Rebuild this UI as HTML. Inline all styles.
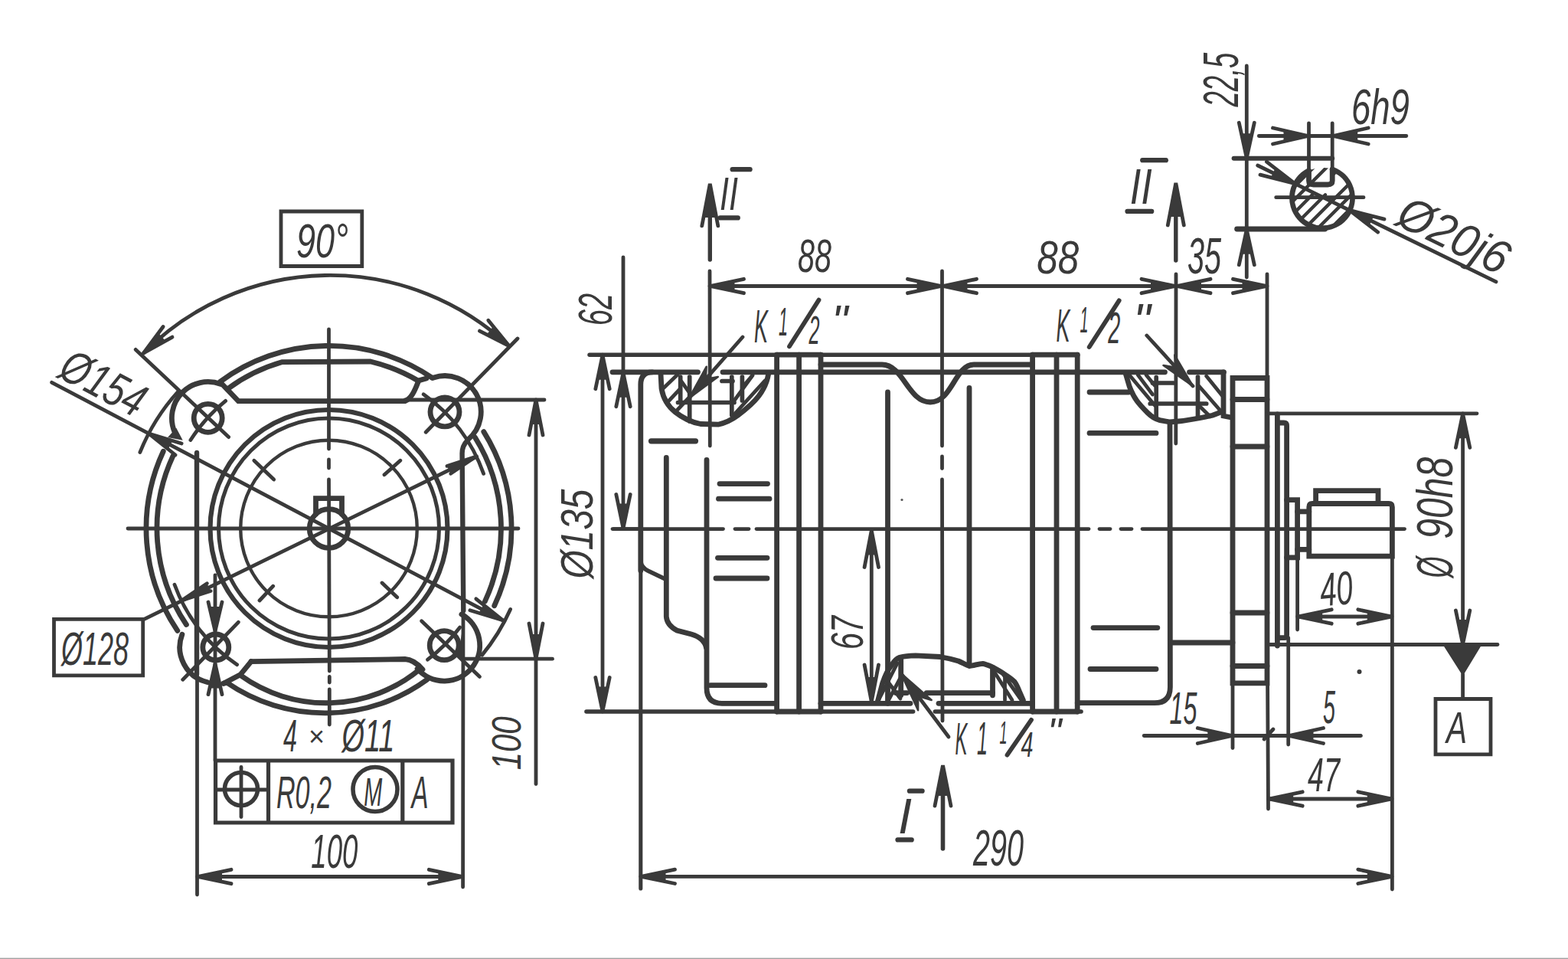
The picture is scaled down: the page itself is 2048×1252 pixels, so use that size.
<!DOCTYPE html>
<html><head><meta charset="utf-8"><title>drawing</title>
<style>html,body{margin:0;padding:0;background:#fff;}body{width:2048px;height:1252px;overflow:hidden;font-family:"Liberation Sans",sans-serif;}svg{display:block;}svg text{fill:#3a3a3a;stroke:none;font-family:"Liberation Sans",sans-serif;font-style:italic;}</style></head><body>
<svg width="2048" height="1252" viewBox="0 0 2048 1252" stroke="#3a3a3a" fill="none" stroke-linecap="round">
<rect x="0" y="0" width="2048" height="1252" fill="#ffffff" stroke="none"/>
<g>
<circle cx="429.5" cy="690.0" r="155.0" stroke-width="6.2" fill="none"/>
<circle cx="429.5" cy="690.0" r="144.0" stroke-width="5.0" fill="none"/>
<circle cx="429.5" cy="690.0" r="115.3" stroke-width="4.4" fill="none"/>
<path d="M412.5,671.3 L412.5,650.6 L446.5,650.6 L446.5,671.3" stroke-width="6.8" fill="none" />
<circle cx="429.5" cy="690.0" r="25.3" stroke-width="6.8" fill="none"/>
<circle cx="271.7" cy="545.8" r="18.5" stroke-width="6.8" fill="none"/>
<circle cx="581.0" cy="537.8" r="19.0" stroke-width="6.8" fill="none"/>
<circle cx="281.8" cy="845.0" r="17.0" stroke-width="6.8" fill="none"/>
<circle cx="580.2" cy="842.6" r="19.0" stroke-width="6.8" fill="none"/>
<path d="M213.3,589.2 A238.5,238.5 0 0 0 231.8,823.4" stroke-width="6.8" fill="none" />
<path d="M226.0,595.1 A224.5,224.5 0 0 0 243.4,815.5" stroke-width="6.8" fill="none" />
<path d="M645.7,790.8 A238.5,238.5 0 0 0 631.8,563.6" stroke-width="6.8" fill="none" />
<path d="M633.4,785.1 A225.0,225.0 0 0 0 620.3,570.8" stroke-width="6.8" fill="none" />
<path d="M564.6,493.4 A238.5,238.5 0 0 0 287.3,498.5" stroke-width="6.8" fill="none" />
<path d="M297,508 A225.5,225.5 0 0 1 368.8,472.6 L484,472 A225.5,225.5 0 0 1 546,497 L557,494" stroke-width="6.8" fill="none" />
<path d="M290.6,502 L311.3,523.5 L529,523.7 C537,520 541,512 546,499" stroke-width="6.8" fill="none" />
<path d="M292,892.2 L296.4,891.3 A226.3,226.3 0 0 0 557.8,887.3" stroke-width="6.8" fill="none" />
<path d="M292,892.2 L313.9,880.8 L328,863.6" stroke-width="6.8" fill="none" />
<path d="M328,863.6 L529,860.5 C537,861 545,866 552,874" stroke-width="6.8" fill="none" />
<path d="M313.9,881.6 A191.8,191.8 0 0 0 548.2,873.8" stroke-width="6.8" fill="none" />
<path d="M288.7,501.6 A47.3,47.3 0 0 0 228.2,564.3" stroke-width="6.8" fill="none" />
<path d="M611.3,574.0 A47.2,47.2 0 0 0 566.4,492.9" stroke-width="6.8" fill="none" />
<path d="M237.9,828.2 A47.0,47.0 0 0 0 271.2,890.8" stroke-width="6.8" fill="none" />
<path d="M545.1,873.1 A46.5,46.5 0 1 0 602.9,802.0" stroke-width="6.8" fill="none" />
<line x1="257.0" y1="591.0" x2="257.0" y2="880.0" stroke-width="6.4" stroke-linecap="round"/>
<line x1="257.5" y1="880.0" x2="257.5" y2="1168.0" stroke-width="4.8" stroke-linecap="round"/>
<path d="M605.3,797 L603.6,592 Q603.6,582 610.5,575" stroke-width="6.4" fill="none" />
<line x1="605.0" y1="797.0" x2="604.6" y2="1158.0" stroke-width="4.8" stroke-linecap="round"/>
<path d="M605.4,811.5 L598.3,858 L606,858 Z" fill="#3a3a3a" stroke="none"/>
<line x1="167.0" y1="690.0" x2="677.0" y2="690.0" stroke-width="4.8" stroke-linecap="round"/>
<line x1="429.5" y1="430.0" x2="429.5" y2="586.0" stroke-width="4.8" stroke-linecap="round"/>
<line x1="429.5" y1="600.0" x2="429.5" y2="611.0" stroke-width="4.8" stroke-linecap="round"/>
<line x1="429.5" y1="626.0" x2="430.3" y2="876.0" stroke-width="4.8" stroke-linecap="round"/>
<line x1="430.3" y1="883.5" x2="430.3" y2="891.0" stroke-width="4.8" stroke-linecap="round"/>
<line x1="430.3" y1="900.0" x2="430.3" y2="946.0" stroke-width="4.8" stroke-linecap="round"/>
<line x1="331.8" y1="601.2" x2="357.7" y2="626.0" stroke-width="4.8" stroke-linecap="round"/>
<line x1="502.0" y1="619.8" x2="522.8" y2="601.2" stroke-width="4.8" stroke-linecap="round"/>
<line x1="339.0" y1="784.0" x2="356.7" y2="765.2" stroke-width="4.8" stroke-linecap="round"/>
<line x1="499.0" y1="761.0" x2="518.7" y2="779.8" stroke-width="4.8" stroke-linecap="round"/>
<line x1="67.6" y1="499.3" x2="656.8" y2="809.8" stroke-width="4.8" stroke-linecap="round"/>
<line x1="188.3" y1="808.3" x2="622.7" y2="596.0" stroke-width="4.8" stroke-linecap="round"/>
<path d="M232.8,511.0 A266.0,266.0 0 0 0 182.9,590.4" stroke-width="4.8" fill="none" />
<path d="M629.7,855.1 A259.5,259.5 0 0 0 666.6,795.5" stroke-width="4.8" fill="none" />
<path d="M631.6,618.4 A214.4,214.4 0 0 0 553.1,514.8" stroke-width="4.8" fill="none" />
<path d="M294.6,523.4 A214.4,214.4 0 0 0 248.9,574.5" stroke-width="4.8" fill="none" />
<path d="M228.0,763.3 A214.4,214.4 0 0 0 309.6,867.7" stroke-width="4.8" fill="none" />
<path d="M558.5,861.2 A214.4,214.4 0 0 0 600.7,819.0" stroke-width="4.8" fill="none" />
<line x1="177.2" y1="456.4" x2="298.6" y2="570.6" stroke-width="4.8" stroke-linecap="round"/>
<line x1="676.0" y1="442.0" x2="556.2" y2="564.2" stroke-width="4.8" stroke-linecap="round"/>
<line x1="311.3" y1="812.3" x2="238.7" y2="887.3" stroke-width="4.8" stroke-linecap="round"/>
<line x1="550.6" y1="810.7" x2="626.5" y2="883.4" stroke-width="4.8" stroke-linecap="round"/>
<path d="M664.8,451.6 A342.6,342.6 0 0 0 187.5,461.0" stroke-width="4.8" fill="none" />
<path d="M213.1,426.5 L187.5,461.0 L225.0,440.1" stroke-width="4.8" fill="none" stroke-linejoin="miter"/>
<path d="M207.0,434.7 L187.5,461.0 L216.1,445.0 Z" fill="#3a3a3a" stroke="none"/>
<path d="M626.5,432.1 L664.8,451.6 L637.8,418.2" stroke-width="4.8" fill="none" stroke-linejoin="miter"/>
<path d="M635.6,436.8 L664.8,451.6 L644.3,426.1 Z" fill="#3a3a3a" stroke="none"/>
<path d="M367,276 H472.8 V347.5 H367 Z" stroke-width="4.8" fill="none" />
<text transform="translate(387.0,336.0)" font-size="63" textLength="68" lengthAdjust="spacingAndGlyphs">90°</text>
<text transform="translate(73.5,491.3) rotate(27.789230550068485)" font-size="61.5" textLength="117" lengthAdjust="spacingAndGlyphs">Ø154</text>
<path d="M237.1,579.0 L194.2,566.0 L229.1,594.0" stroke-width="4.8" fill="none" stroke-linejoin="miter"/>
<path d="M225.4,575.4 L194.2,566.0 L219.6,586.4 Z" fill="#3a3a3a" stroke="none"/>
<path d="M613.9,796.8 L656.8,809.8 L621.8,781.8" stroke-width="4.8" fill="none" stroke-linejoin="miter"/>
<path d="M625.6,800.3 L656.8,809.8 L631.4,789.4 Z" fill="#3a3a3a" stroke="none"/>
<path d="M230.1,560 L220.5,570.6 L237.3,573.8 Z" fill="#3a3a3a" stroke="#3a3a3a" stroke-width="1.5"/>
<path d="M70.5,808.3 H186.7 V881.8 H70.5 Z" stroke-width="4.8" fill="none" />
<text transform="translate(80.1,868.0)" font-size="61.5" textLength="88" lengthAdjust="spacingAndGlyphs">Ø128</text>
<path d="M588.6,618.4 L622.1,595.9 L583.8,608.5" stroke-width="4.5" fill="none" stroke-linejoin="miter"/>
<path d="M588.6,618.4 L622.1,595.9 L583.8,608.5 Z" fill="#3a3a3a" stroke="none"/>
<path d="M270.4,761.6 L236.9,784.1 L275.2,771.5" stroke-width="4.5" fill="none" stroke-linejoin="miter"/>
<path d="M270.4,761.6 L236.9,784.1 L275.2,771.5 Z" fill="#3a3a3a" stroke="none"/>
<line x1="529.0" y1="522.0" x2="711.0" y2="522.0" stroke-width="4.8" stroke-linecap="round"/>
<line x1="605.0" y1="860.2" x2="721.5" y2="860.2" stroke-width="4.8" stroke-linecap="round"/>
<line x1="700.0" y1="522.0" x2="700.0" y2="1023.5" stroke-width="4.8" stroke-linecap="round"/>
<path d="M709.0,568.0 L700.0,522.0 L691.0,568.0" stroke-width="4.8" fill="none" stroke-linejoin="miter"/>
<path d="M706.3,554.0 L700.0,522.0 L693.7,554.0 Z" fill="#3a3a3a" stroke="none"/>
<path d="M691.0,814.0 L700.0,860.0 L709.0,814.0" stroke-width="4.8" fill="none" stroke-linejoin="miter"/>
<path d="M693.7,828.0 L700.0,860.0 L706.3,828.0 Z" fill="#3a3a3a" stroke="none"/>
<text transform="translate(679.5,1005.3) rotate(-90)" font-size="54.5" textLength="70" lengthAdjust="spacingAndGlyphs">100</text>
<line x1="257.5" y1="1144.5" x2="604.6" y2="1144.5" stroke-width="4.8" stroke-linecap="round"/>
<path d="M302.0,1135.3 L258.0,1144.5 L302.0,1153.7" stroke-width="4.8" fill="none" stroke-linejoin="miter"/>
<path d="M290.0,1137.8 L258.0,1144.5 L290.0,1151.2 Z" fill="#3a3a3a" stroke="none"/>
<path d="M560.3,1153.7 L604.3,1144.5 L560.3,1135.3" stroke-width="4.8" fill="none" stroke-linejoin="miter"/>
<path d="M572.3,1151.2 L604.3,1144.5 L572.3,1137.8 Z" fill="#3a3a3a" stroke="none"/>
<text transform="translate(406.3,1132.5)" font-size="63.6" textLength="61" lengthAdjust="spacingAndGlyphs">100</text>
<text transform="translate(370.1,981.0)" font-size="60" textLength="18" lengthAdjust="spacingAndGlyphs">4</text>
<text x="413" y="974" font-size="36" text-anchor="middle">×</text>
<text transform="translate(446.5,981.0)" font-size="60" textLength="69" lengthAdjust="spacingAndGlyphs">Ø11</text>
<line x1="281.0" y1="750.8" x2="281.0" y2="993.0" stroke-width="4.8" stroke-linecap="round"/>
<path d="M272.0,786.0 L281.0,824.0 L290.0,786.0" stroke-width="4.8" fill="none" stroke-linejoin="miter"/>
<path d="M273.4,792.0 L281.0,824.0 L288.6,792.0 Z" fill="#3a3a3a" stroke="none"/>
<path d="M290.0,906.6 L281.0,866.6 L272.0,906.6" stroke-width="4.8" fill="none" stroke-linejoin="miter"/>
<path d="M288.2,898.6 L281.0,866.6 L273.8,898.6 Z" fill="#3a3a3a" stroke="none"/>
<path d="M281.5,993 H591 V1074 H281.5 Z M350.5,993 V1074 M525.8,993 V1074" stroke-width="5.2" fill="none" />
<circle cx="315.0" cy="1030.0" r="21.5" stroke-width="5.6" fill="none"/>
<line x1="284.0" y1="1031.0" x2="347.6" y2="1031.0" stroke-width="4.8" stroke-linecap="round"/>
<line x1="315.0" y1="1001.5" x2="315.0" y2="1066.6" stroke-width="4.8" stroke-linecap="round"/>
<text transform="translate(361.0,1055.0)" font-size="60" textLength="72" lengthAdjust="spacingAndGlyphs">R0,2</text>
<circle cx="490.0" cy="1030.5" r="29.0" stroke-width="5.6" fill="none"/>
<text transform="translate(475.3,1051.7)" font-size="52" textLength="24" lengthAdjust="spacingAndGlyphs">M</text>
<text transform="translate(537.5,1055.0)" font-size="60" textLength="22" lengthAdjust="spacingAndGlyphs">A</text>
<line x1="770.0" y1="463.2" x2="1407.0" y2="463.2" stroke-width="5.3999999999999995" stroke-linecap="round"/>
<line x1="766.0" y1="929.0" x2="1192.6" y2="929.0" stroke-width="5.6" stroke-linecap="round"/>
<line x1="1221.4" y1="929.0" x2="1412.0" y2="929.0" stroke-width="5.6" stroke-linecap="round"/>
<line x1="800.0" y1="485.8" x2="911.5" y2="485.8" stroke-width="6.8" stroke-linecap="round"/>
<line x1="944.0" y1="485.8" x2="1521.5" y2="485.8" stroke-width="6.8" stroke-linecap="round"/>
<line x1="1553.5" y1="485.8" x2="1598.5" y2="485.8" stroke-width="6.8" stroke-linecap="round"/>
<line x1="800.0" y1="690.6" x2="944.5" y2="690.6" stroke-width="4.8" stroke-linecap="round"/>
<line x1="960.0" y1="690.6" x2="978.0" y2="690.6" stroke-width="4.8" stroke-linecap="round"/>
<line x1="988.0" y1="690.6" x2="1422.0" y2="690.6" stroke-width="4.8" stroke-linecap="round"/>
<line x1="1436.0" y1="690.6" x2="1450.0" y2="690.6" stroke-width="4.8" stroke-linecap="round"/>
<line x1="1464.0" y1="690.6" x2="1478.0" y2="690.6" stroke-width="4.8" stroke-linecap="round"/>
<line x1="1492.0" y1="690.6" x2="1834.5" y2="690.6" stroke-width="4.8" stroke-linecap="round"/>
<path d="M836.8,745 L836.8,502 Q836.8,485.8 852,485.8" stroke-width="6.8" fill="none" />
<line x1="836.8" y1="745.0" x2="836.8" y2="1160.0" stroke-width="5.1" stroke-linecap="round"/>
<path d="M836.8,733 Q838,741 846,745 L869,756" stroke-width="5.6" fill="none" />
<path d="M870.3,597.5 L870.3,805 Q871,816 884,823 L903,828 Q920,833 922.6,846" stroke-width="6.8" fill="none" />
<path d="M923,600.5 L923,898 Q923,918.3 943,918.3 L1014.5,918.3" stroke-width="6.8" fill="none" />
<line x1="850.5" y1="575.8" x2="908.5" y2="575.8" stroke-width="7.2" stroke-linecap="round"/>
<line x1="940.0" y1="631.6" x2="1002.5" y2="631.6" stroke-width="6.8" stroke-linecap="round"/>
<line x1="938.5" y1="651.2" x2="1005.0" y2="651.2" stroke-width="6.8" stroke-linecap="round"/>
<line x1="937.5" y1="728.3" x2="1002.0" y2="728.3" stroke-width="6.8" stroke-linecap="round"/>
<line x1="935.0" y1="755.0" x2="1002.0" y2="755.0" stroke-width="6.8" stroke-linecap="round"/>
<line x1="928.0" y1="894.7" x2="999.0" y2="894.7" stroke-width="6.8" stroke-linecap="round"/>
<line x1="1014.6" y1="463.2" x2="1014.6" y2="929.0" stroke-width="6.8" stroke-linecap="round"/>
<line x1="1043.6" y1="463.2" x2="1043.6" y2="929.0" stroke-width="6.8" stroke-linecap="round"/>
<line x1="1072.0" y1="463.2" x2="1072.0" y2="929.0" stroke-width="6.8" stroke-linecap="round"/>
<line x1="1348.6" y1="463.2" x2="1348.6" y2="929.0" stroke-width="6.8" stroke-linecap="round"/>
<line x1="1380.0" y1="463.2" x2="1380.0" y2="929.0" stroke-width="6.8" stroke-linecap="round"/>
<line x1="1407.2" y1="463.2" x2="1407.2" y2="929.0" stroke-width="6.8" stroke-linecap="round"/>
<line x1="1014.6" y1="463.2" x2="1072.0" y2="463.2" stroke-width="6.8" stroke-linecap="round"/>
<line x1="1348.6" y1="463.2" x2="1407.2" y2="463.2" stroke-width="6.8" stroke-linecap="round"/>
<line x1="1014.6" y1="929.0" x2="1072.0" y2="929.0" stroke-width="6.8" stroke-linecap="round"/>
<line x1="1348.6" y1="929.0" x2="1407.2" y2="929.0" stroke-width="6.8" stroke-linecap="round"/>
<path d="M1072,476 L1152,476 C1180,476 1186,525 1215,525 C1244,525 1247,476 1272,476 L1348,476" stroke-width="6.8" fill="none" />
<line x1="1159.5" y1="512.0" x2="1159.5" y2="918.3" stroke-width="6.8" stroke-linecap="round"/>
<line x1="1266.0" y1="506.5" x2="1266.0" y2="867.0" stroke-width="6.8" stroke-linecap="round"/>
<line x1="1072.0" y1="918.3" x2="1189.0" y2="918.3" stroke-width="6.8" stroke-linecap="round"/>
<line x1="1226.0" y1="918.3" x2="1348.0" y2="918.3" stroke-width="6.8" stroke-linecap="round"/>
<line x1="1230.5" y1="354.0" x2="1230.5" y2="582.0" stroke-width="4.8" stroke-linecap="round"/>
<line x1="1230.5" y1="596.0" x2="1230.5" y2="611.5" stroke-width="4.8" stroke-linecap="round"/>
<line x1="1230.5" y1="626.0" x2="1231.0" y2="941.0" stroke-width="4.8" stroke-linecap="round"/>
<line x1="927.3" y1="250.0" x2="927.3" y2="339.0" stroke-width="5.4" stroke-linecap="round"/>
<path d="M937.8,294.9 L927.3,239.9 L916.8,294.9" stroke-width="4.8" fill="none" stroke-linejoin="miter"/>
<path d="M935.7,283.9 L927.3,239.9 L918.9,283.9 Z" fill="#3a3a3a" stroke="none"/>
<line x1="927.0" y1="354.0" x2="927.3" y2="582.0" stroke-width="4.8" stroke-linecap="round"/>
<path d="M1598,485.8 L1598,543 L1608,545" stroke-width="6.8" fill="none" />
<path d="M1528,552 L1528.4,897 Q1528.4,917.6999999999999 1508,917.6999999999999 L1407.2,917.6999999999999" stroke-width="6.8" fill="none" />
<line x1="1423.0" y1="512.0" x2="1474.0" y2="512.0" stroke-width="6.8" stroke-linecap="round"/>
<line x1="1423.0" y1="565.4" x2="1510.0" y2="565.4" stroke-width="6.8" stroke-linecap="round"/>
<line x1="1428.0" y1="819.6" x2="1511.8" y2="819.6" stroke-width="6.8" stroke-linecap="round"/>
<line x1="1424.0" y1="873.5" x2="1510.0" y2="873.5" stroke-width="6.8" stroke-linecap="round"/>
<line x1="1528.4" y1="839.0" x2="1610.0" y2="839.0" stroke-width="6.8" stroke-linecap="round"/>
<line x1="1535.8" y1="248.0" x2="1535.8" y2="340.0" stroke-width="5.4" stroke-linecap="round"/>
<path d="M1546.3,294.0 L1535.8,239.0 L1525.3,294.0" stroke-width="4.8" fill="none" stroke-linejoin="miter"/>
<path d="M1544.2,283.0 L1535.8,239.0 L1527.4,283.0 Z" fill="#3a3a3a" stroke="none"/>
<line x1="1536.0" y1="358.0" x2="1535.8" y2="579.0" stroke-width="4.8" stroke-linecap="round"/>
<path d="M1610,493.5 H1655 V891.8 H1610 Z" stroke-width="6.8" fill="none" />
<line x1="1610.0" y1="521.5" x2="1655.0" y2="521.5" stroke-width="6.8" stroke-linecap="round"/>
<line x1="1610.0" y1="583.0" x2="1655.0" y2="583.0" stroke-width="6.8" stroke-linecap="round"/>
<line x1="1610.0" y1="800.0" x2="1655.0" y2="800.0" stroke-width="6.8" stroke-linecap="round"/>
<line x1="1610.0" y1="869.5" x2="1655.0" y2="869.5" stroke-width="6.8" stroke-linecap="round"/>
<line x1="1668.4" y1="541.0" x2="1668.4" y2="843.0" stroke-width="6.8" stroke-linecap="round"/>
<path d="M1668.4,552 H1677 Q1680.6,552 1680.6,556 L1680.6,829 Q1680.6,832.7 1677,832.7 H1668.4" stroke-width="6.8" fill="none" />
<path d="M1680.6,652.7 H1694.6 V727.8 H1680.6" stroke-width="6.8" fill="none" />
<path d="M1694.6,667.9 H1709.8 M1694.6,717.4 H1709.8" stroke-width="6.8" fill="none" />
<path d="M1709.8,662 Q1709.8,657.5 1714,657.5 H1814 Q1818.4,657.5 1818.4,662 V726.2 H1709.8 Z" stroke-width="6.8" fill="none" />
<path d="M1718.6,657.5 V640.7 H1800 V657.5" stroke-width="6.8" fill="none" />
<path d="M863,488 L864,507 C866,520 872,530 882,538 C892,546 902,551 915,553.5 L938,554.2 C948,552 956,548 964,542 C976,533 985,525 991,517 C997,509 1002,499 1003.7,488" stroke-width="6.8" fill="none" />
<path d="M900.7,492 V550 M955.8,492 V542 M885.5,525.5 H959 M888.7,492 V526 M969.4,492 V523" stroke-width="5.7" fill="none" />
<line x1="943.0" y1="497.5" x2="957.0" y2="497.5" stroke-width="5.7" stroke-linecap="round"/>
<line x1="866.3" y1="507.0" x2="885.0" y2="489.0" stroke-width="4.8" stroke-linecap="round"/>
<line x1="871.0" y1="526.0" x2="888.0" y2="508.0" stroke-width="4.8" stroke-linecap="round"/>
<line x1="882.0" y1="538.0" x2="900.0" y2="519.0" stroke-width="4.8" stroke-linecap="round"/>
<line x1="890.0" y1="498.0" x2="900.0" y2="512.0" stroke-width="4.8" stroke-linecap="round"/>
<line x1="959.0" y1="523.0" x2="983.0" y2="490.0" stroke-width="4.8" stroke-linecap="round"/>
<line x1="959.0" y1="541.0" x2="999.0" y2="497.0" stroke-width="4.8" stroke-linecap="round"/>
<line x1="970.0" y1="505.0" x2="982.0" y2="491.0" stroke-width="4.8" stroke-linecap="round"/>
<path d="M1470.3,488 L1475,504 C1478,512 1481,518 1484.7,523 C1489,529 1494,534 1499,539 C1504,544 1509,547 1515,548.6 L1527.8,551 C1540,550.5 1550,549 1559.7,547 C1568,545.5 1576,544 1583.7,542.2 L1596.5,537.4" stroke-width="6.8" fill="none" />
<path d="M1510.2,492.7 V545.4 M1564.5,492 V545 M1502.2,527 H1575.7 M1505.4,500 H1532.6" stroke-width="5.7" fill="none" />
<line x1="1475.0" y1="489.5" x2="1508.6" y2="529.5" stroke-width="4.8" stroke-linecap="round"/>
<line x1="1486.3" y1="489.5" x2="1505.4" y2="515.0" stroke-width="4.8" stroke-linecap="round"/>
<line x1="1497.0" y1="489.5" x2="1508.0" y2="503.0" stroke-width="4.8" stroke-linecap="round"/>
<line x1="1575.7" y1="491.0" x2="1596.5" y2="516.7" stroke-width="4.8" stroke-linecap="round"/>
<line x1="1566.0" y1="504.0" x2="1596.5" y2="539.0" stroke-width="4.8" stroke-linecap="round"/>
<line x1="1566.0" y1="529.5" x2="1580.5" y2="543.8" stroke-width="4.8" stroke-linecap="round"/>
<path d="M1146.3,915.8 L1152.7,891.8 C1156,882 1159,875 1163.9,869.5 C1167,864 1170,860 1175,858.3 C1182,856.5 1189,856 1195.8,855.9 L1227.8,857.5 C1237,859 1245,861 1251.8,863 C1257,865 1261,868 1266,869.5 C1272,869 1278,866.5 1283.7,866.3 C1288,867 1292,869 1296.5,871 C1302,874 1308,877 1312.5,880.6 C1318,884 1322,887 1325.2,890.2 C1328,894 1330,899 1331.6,903 L1336.4,914.2" stroke-width="6.8" fill="none" />
<line x1="1176.7" y1="860.0" x2="1176.7" y2="907.8" stroke-width="6.8" stroke-linecap="round"/>
<line x1="1296.5" y1="872.6" x2="1296.5" y2="907.8" stroke-width="6.8" stroke-linecap="round"/>
<line x1="1210.2" y1="904.6" x2="1296.5" y2="904.6" stroke-width="6.8" stroke-linecap="round"/>
<line x1="1170.0" y1="904.6" x2="1184.7" y2="904.6" stroke-width="6.8" stroke-linecap="round"/>
<line x1="1148.0" y1="913.0" x2="1172.0" y2="866.0" stroke-width="4.8" stroke-linecap="round"/>
<line x1="1160.0" y1="915.0" x2="1176.0" y2="885.0" stroke-width="4.8" stroke-linecap="round"/>
<line x1="1156.0" y1="885.0" x2="1176.0" y2="912.0" stroke-width="4.8" stroke-linecap="round"/>
<line x1="1298.0" y1="876.0" x2="1322.0" y2="914.0" stroke-width="4.8" stroke-linecap="round"/>
<line x1="1310.0" y1="880.0" x2="1334.0" y2="914.0" stroke-width="4.8" stroke-linecap="round"/>
<line x1="1312.5" y1="885.0" x2="1312.5" y2="914.0" stroke-width="4.8" stroke-linecap="round"/>
<line x1="787.0" y1="463.2" x2="787.0" y2="929.0" stroke-width="4.8" stroke-linecap="round"/>
<path d="M796.2,507.7 L787.0,463.7 L777.8,507.7" stroke-width="4.8" fill="none" stroke-linejoin="miter"/>
<path d="M793.7,495.7 L787.0,463.7 L780.3,495.7 Z" fill="#3a3a3a" stroke="none"/>
<path d="M777.8,884.5 L787.0,928.5 L796.2,884.5" stroke-width="4.8" fill="none" stroke-linejoin="miter"/>
<path d="M780.3,896.5 L787.0,928.5 L793.7,896.5 Z" fill="#3a3a3a" stroke="none"/>
<text transform="translate(773.5,755.6) rotate(-90)" font-size="59.8" textLength="117" lengthAdjust="spacingAndGlyphs">Ø135</text>
<line x1="814.0" y1="336.0" x2="814.0" y2="689.5" stroke-width="4.8" stroke-linecap="round"/>
<line x1="801.5" y1="690.6" x2="837.0" y2="690.6" stroke-width="4.8" stroke-linecap="round"/>
<path d="M823.2,530.8 L814.0,486.8 L804.8,530.8" stroke-width="4.8" fill="none" stroke-linejoin="miter"/>
<path d="M820.7,518.8 L814.0,486.8 L807.3,518.8 Z" fill="#3a3a3a" stroke="none"/>
<path d="M804.8,645.5 L814.0,689.5 L823.2,645.5" stroke-width="4.8" fill="none" stroke-linejoin="miter"/>
<path d="M807.3,657.5 L814.0,689.5 L820.7,657.5 Z" fill="#3a3a3a" stroke="none"/>
<text transform="translate(799.0,425.0) rotate(-90)" font-size="62.9" textLength="42" lengthAdjust="spacingAndGlyphs">62</text>
<line x1="927.0" y1="373.5" x2="1655.0" y2="373.5" stroke-width="4.8" stroke-linecap="round"/>
<path d="M971.5,364.3 L927.5,373.5 L971.5,382.7" stroke-width="4.8" fill="none" stroke-linejoin="miter"/>
<path d="M959.5,366.8 L927.5,373.5 L959.5,380.2 Z" fill="#3a3a3a" stroke="none"/>
<path d="M1185.5,382.7 L1229.5,373.5 L1185.5,364.3" stroke-width="4.8" fill="none" stroke-linejoin="miter"/>
<path d="M1197.5,380.2 L1229.5,373.5 L1197.5,366.8 Z" fill="#3a3a3a" stroke="none"/>
<path d="M1275.5,364.3 L1231.5,373.5 L1275.5,382.7" stroke-width="4.8" fill="none" stroke-linejoin="miter"/>
<path d="M1263.5,366.8 L1231.5,373.5 L1263.5,380.2 Z" fill="#3a3a3a" stroke="none"/>
<path d="M1491.0,382.7 L1535.0,373.5 L1491.0,364.3" stroke-width="4.8" fill="none" stroke-linejoin="miter"/>
<path d="M1503.0,380.2 L1535.0,373.5 L1503.0,366.8 Z" fill="#3a3a3a" stroke="none"/>
<path d="M1581.0,364.3 L1537.0,373.5 L1581.0,382.7" stroke-width="4.8" fill="none" stroke-linejoin="miter"/>
<path d="M1569.0,366.8 L1537.0,373.5 L1569.0,380.2 Z" fill="#3a3a3a" stroke="none"/>
<path d="M1610.5,382.7 L1654.5,373.5 L1610.5,364.3" stroke-width="4.8" fill="none" stroke-linejoin="miter"/>
<path d="M1622.5,380.2 L1654.5,373.5 L1622.5,366.8 Z" fill="#3a3a3a" stroke="none"/>
<line x1="1655.0" y1="358.0" x2="1655.0" y2="493.0" stroke-width="4.8" stroke-linecap="round"/>
<text transform="translate(1042.0,355.3)" font-size="61.9" textLength="44" lengthAdjust="spacingAndGlyphs">88</text>
<text transform="translate(1354.2,357.0)" font-size="61.9" textLength="55" lengthAdjust="spacingAndGlyphs">88</text>
<text transform="translate(1551.0,357.0)" font-size="67" textLength="44" lengthAdjust="spacingAndGlyphs">35</text>
<line x1="1138.3" y1="695.0" x2="1138.3" y2="915.0" stroke-width="4.8" stroke-linecap="round"/>
<path d="M1147.5,740.5 L1138.3,692.5 L1129.1,740.5" stroke-width="4.8" fill="none" stroke-linejoin="miter"/>
<path d="M1144.4,724.5 L1138.3,692.5 L1132.2,724.5 Z" fill="#3a3a3a" stroke="none"/>
<path d="M1129.1,868.0 L1138.3,916.0 L1147.5,868.0" stroke-width="4.8" fill="none" stroke-linejoin="miter"/>
<path d="M1132.2,884.0 L1138.3,916.0 L1144.4,884.0 Z" fill="#3a3a3a" stroke="none"/>
<text transform="translate(1127.4,847.9) rotate(-90)" font-size="59.8" textLength="44" lengthAdjust="spacingAndGlyphs">67</text>
<line x1="836.8" y1="1144.3" x2="1818.0" y2="1144.3" stroke-width="4.8" stroke-linecap="round"/>
<path d="M881.5,1135.1 L837.5,1144.3 L881.5,1153.5" stroke-width="4.8" fill="none" stroke-linejoin="miter"/>
<path d="M869.5,1137.6 L837.5,1144.3 L869.5,1151.0 Z" fill="#3a3a3a" stroke="none"/>
<path d="M1773.8,1153.5 L1817.8,1144.3 L1773.8,1135.1" stroke-width="4.8" fill="none" stroke-linejoin="miter"/>
<path d="M1785.8,1151.0 L1817.8,1144.3 L1785.8,1137.6 Z" fill="#3a3a3a" stroke="none"/>
<text transform="translate(1271.0,1129.5)" font-size="65.8" textLength="66" lengthAdjust="spacingAndGlyphs">290</text>
<line x1="1818.4" y1="726.0" x2="1818.4" y2="1161.0" stroke-width="4.8" stroke-linecap="round"/>
<line x1="1694.6" y1="805.0" x2="1818.0" y2="805.0" stroke-width="4.8" stroke-linecap="round"/>
<path d="M1739.2,795.8 L1695.2,805.0 L1739.2,814.2" stroke-width="4.8" fill="none" stroke-linejoin="miter"/>
<path d="M1727.2,798.3 L1695.2,805.0 L1727.2,811.7 Z" fill="#3a3a3a" stroke="none"/>
<path d="M1773.8,814.2 L1817.8,805.0 L1773.8,795.8" stroke-width="4.8" fill="none" stroke-linejoin="miter"/>
<path d="M1785.8,811.7 L1817.8,805.0 L1785.8,798.3 Z" fill="#3a3a3a" stroke="none"/>
<line x1="1694.6" y1="727.8" x2="1694.6" y2="822.0" stroke-width="4.8" stroke-linecap="round"/>
<text transform="translate(1725.7,791.6) rotate(-5)" font-size="61.5" textLength="43" lengthAdjust="spacingAndGlyphs">40</text>
<line x1="1655.0" y1="539.8" x2="1929.0" y2="539.8" stroke-width="4.8" stroke-linecap="round"/>
<line x1="1658.8" y1="841.5" x2="1956.0" y2="841.5" stroke-width="4.8" stroke-linecap="round"/>
<line x1="1910.6" y1="539.8" x2="1910.6" y2="841.5" stroke-width="4.8" stroke-linecap="round"/>
<path d="M1919.8,584.3 L1910.6,540.3 L1901.4,584.3" stroke-width="4.8" fill="none" stroke-linejoin="miter"/>
<path d="M1917.3,572.3 L1910.6,540.3 L1903.9,572.3 Z" fill="#3a3a3a" stroke="none"/>
<path d="M1901.4,797.0 L1910.6,841.0 L1919.8,797.0" stroke-width="4.8" fill="none" stroke-linejoin="miter"/>
<path d="M1903.9,809.0 L1910.6,841.0 L1917.3,809.0 Z" fill="#3a3a3a" stroke="none"/>
<text transform="translate(1897.3,754.6) rotate(-90)" font-size="66.5" textLength="28" lengthAdjust="spacingAndGlyphs">Ø</text>
<text transform="translate(1897.3,703.8) rotate(-90)" font-size="66.5" textLength="107" lengthAdjust="spacingAndGlyphs">90h8</text>
<path d="M1886,842 L1934,842 L1910.6,880.5 Z" fill="#3a3a3a" stroke-width="2"/>
<line x1="1910.6" y1="880.0" x2="1910.6" y2="911.0" stroke-width="4.8" stroke-linecap="round"/>
<path d="M1875,912.5 H1947 V984.8 H1875 Z" stroke-width="4.8" fill="none" />
<text transform="translate(1889.0,970.4)" font-size="57" textLength="27" lengthAdjust="spacingAndGlyphs">A</text>
<line x1="1494.2" y1="960.5" x2="1777.4" y2="960.5" stroke-width="4.8" stroke-linecap="round"/>
<path d="M1564.3,970.5 L1609.3,960.5 L1564.3,950.5" stroke-width="4.8" fill="none" stroke-linejoin="miter"/>
<path d="M1577.3,967.6 L1609.3,960.5 L1577.3,953.4 Z" fill="#3a3a3a" stroke="none"/>
<path d="M1728.5,950.5 L1683.5,960.5 L1728.5,970.5" stroke-width="4.8" fill="none" stroke-linejoin="miter"/>
<path d="M1715.5,953.4 L1683.5,960.5 L1715.5,967.6 Z" fill="#3a3a3a" stroke="none"/>
<line x1="1610.0" y1="891.8" x2="1610.0" y2="976.5" stroke-width="4.8" stroke-linecap="round"/>
<line x1="1682.7" y1="832.7" x2="1682.7" y2="972.0" stroke-width="4.8" stroke-linecap="round"/>
<line x1="1655.6" y1="891.8" x2="1656.5" y2="1056.0" stroke-width="4.8" stroke-linecap="round"/>
<line x1="1651.0" y1="965.0" x2="1663.0" y2="952.0" stroke-width="4.8" stroke-linecap="round"/>
<text transform="translate(1527.6,944.7)" font-size="59.7" textLength="36" lengthAdjust="spacingAndGlyphs">15</text>
<text transform="translate(1727.9,944.0)" font-size="62" textLength="16" lengthAdjust="spacingAndGlyphs">5</text>
<line x1="1656.5" y1="1043.0" x2="1818.0" y2="1043.0" stroke-width="4.8" stroke-linecap="round"/>
<path d="M1701.2,1033.8 L1657.2,1043.0 L1701.2,1052.2" stroke-width="4.8" fill="none" stroke-linejoin="miter"/>
<path d="M1689.2,1036.3 L1657.2,1043.0 L1689.2,1049.7 Z" fill="#3a3a3a" stroke="none"/>
<path d="M1773.8,1052.2 L1817.8,1043.0 L1773.8,1033.8" stroke-width="4.8" fill="none" stroke-linejoin="miter"/>
<path d="M1785.8,1049.7 L1817.8,1043.0 L1785.8,1036.3 Z" fill="#3a3a3a" stroke="none"/>
<text transform="translate(1708.1,1032.6)" font-size="63.7" textLength="42" lengthAdjust="spacingAndGlyphs">47</text>
<text transform="translate(985.0,446.7)" font-size="61" textLength="18" lengthAdjust="spacingAndGlyphs">K</text>
<text transform="translate(1017.0,438.1)" font-size="51" textLength="12" lengthAdjust="spacingAndGlyphs">1</text>
<line x1="1031.0" y1="452.2" x2="1069.5" y2="391.6" stroke-width="5.8" stroke-linecap="round"/>
<text transform="translate(1056.4,448.8)" font-size="52" textLength="14" lengthAdjust="spacingAndGlyphs">2</text>
<text x="1086" y="440" font-size="60">"</text>
<line x1="970.0" y1="440.0" x2="899.9" y2="519.9" stroke-width="4.8" stroke-linecap="round"/>
<path d="M899.9,519.9 L922.7,478.7 L921.8,495.0 L937.8,491.9 Z" fill="#3a3a3a" stroke="#3a3a3a" stroke-width="2.5" stroke-linejoin="round"/>
<text transform="translate(1379.6,445.9)" font-size="60.6" textLength="18" lengthAdjust="spacingAndGlyphs">K</text>
<text transform="translate(1410.5,433.9)" font-size="47.5" textLength="11" lengthAdjust="spacingAndGlyphs">1</text>
<line x1="1422.7" y1="453.0" x2="1461.7" y2="392.4" stroke-width="5.8" stroke-linecap="round"/>
<text transform="translate(1447.2,448.0)" font-size="57.3" textLength="16" lengthAdjust="spacingAndGlyphs">2</text>
<text x="1480" y="442" font-size="64">"</text>
<line x1="1497.8" y1="438.0" x2="1558.0" y2="504.0" stroke-width="4.8" stroke-linecap="round"/>
<path d="M1558.0,504.0 L1519.5,477.0 L1535.5,479.7 L1534.2,463.4 Z" fill="#3a3a3a" stroke="#3a3a3a" stroke-width="2.5" stroke-linejoin="round"/>
<text transform="translate(1247.5,984.6)" font-size="60" textLength="16" lengthAdjust="spacingAndGlyphs">K</text>
<text transform="translate(1276.0,984.7)" font-size="60.2" textLength="14" lengthAdjust="spacingAndGlyphs">1</text>
<text transform="translate(1305.5,970.6)" font-size="42.3" textLength="10" lengthAdjust="spacingAndGlyphs">1</text>
<line x1="1315.5" y1="985.6" x2="1347.0" y2="939.9" stroke-width="5.8" stroke-linecap="round"/>
<text transform="translate(1333.6,988.0)" font-size="46" textLength="16" lengthAdjust="spacingAndGlyphs">4</text>
<text x="1368" y="974" font-size="52">"</text>
<line x1="1239.0" y1="962.0" x2="1176.7" y2="879.0" stroke-width="4.8" stroke-linecap="round"/>
<path d="M1176.7,879.0 L1216.7,914.0 L1199.2,908.9 L1199.1,927.2 Z" fill="#3a3a3a" stroke="#3a3a3a" stroke-width="2.5" stroke-linejoin="round"/>
<line x1="1231.5" y1="1008.0" x2="1231.5" y2="1108.0" stroke-width="5.6" stroke-linecap="round"/>
<path d="M1242.0,1052.1 L1231.5,999.1 L1221.0,1052.1" stroke-width="4.8" fill="none" stroke-linejoin="miter"/>
<path d="M1239.4,1039.1 L1231.5,999.1 L1223.6,1039.1 Z" fill="#3a3a3a" stroke="none"/>
<text x="1182" y="1088" font-size="65" text-anchor="middle">I</text>
<line x1="1187.9" y1="1032.7" x2="1204.6" y2="1032.7" stroke-width="6.2" stroke-linecap="round"/>
<line x1="1172.5" y1="1096.4" x2="1190.7" y2="1096.4" stroke-width="6.2" stroke-linecap="round"/>
<text x="952" y="274" font-size="62" text-anchor="middle" textLength="24" lengthAdjust="spacingAndGlyphs">II</text>
<line x1="956.6" y1="221.2" x2="979.6" y2="221.2" stroke-width="6.2" stroke-linecap="round"/>
<line x1="940.7" y1="284.4" x2="963.8" y2="284.4" stroke-width="6.2" stroke-linecap="round"/>
<text x="1490.3" y="266" font-size="65" text-anchor="middle" textLength="29" lengthAdjust="spacingAndGlyphs">II</text>
<line x1="1492.2" y1="209.2" x2="1522.9" y2="209.2" stroke-width="6.2" stroke-linecap="round"/>
<line x1="1472.5" y1="275.9" x2="1504.2" y2="275.9" stroke-width="6.2" stroke-linecap="round"/>
<path d="M1709.5,222.9 A39.5,39.5 0 1 0 1740.2,221.1" stroke-width="6.8" fill="none" />
<path d="M1709.5,222.9 V236 Q1709.5,241 1715.5,241 H1734.2 Q1740.2,241 1740.2,236 V221.1" stroke-width="6.8" fill="none" />
<clipPath id="cs"><circle cx="1727.0" cy="258.3" r="39.5"/></clipPath>
<g clip-path="url(#cs)">
<line x1="1609.0" y1="308.3" x2="1709.0" y2="208.3" stroke-width="4.4" stroke-linecap="round"/>
<line x1="1626.0" y1="308.3" x2="1726.0" y2="208.3" stroke-width="4.4" stroke-linecap="round"/>
<line x1="1643.0" y1="308.3" x2="1743.0" y2="208.3" stroke-width="4.4" stroke-linecap="round"/>
<line x1="1660.0" y1="308.3" x2="1714.0" y2="254.3" stroke-width="4.4" stroke-linecap="round"/>
<line x1="1677.0" y1="308.3" x2="1731.0" y2="254.3" stroke-width="4.4" stroke-linecap="round"/>
<line x1="1694.0" y1="308.3" x2="1794.0" y2="208.3" stroke-width="4.4" stroke-linecap="round"/>
<line x1="1711.0" y1="308.3" x2="1811.0" y2="208.3" stroke-width="4.4" stroke-linecap="round"/>
<line x1="1728.0" y1="308.3" x2="1828.0" y2="208.3" stroke-width="4.4" stroke-linecap="round"/>
<line x1="1745.0" y1="308.3" x2="1845.0" y2="208.3" stroke-width="4.4" stroke-linecap="round"/>
<line x1="1741.0" y1="228.0" x2="1756.0" y2="213.0" stroke-width="4.4" stroke-linecap="round"/>
</g>
<line x1="1611.6" y1="206.8" x2="1740.2" y2="206.8" stroke-width="6.0" stroke-linecap="round"/>
<line x1="1615.6" y1="299.0" x2="1730.6" y2="299.0" stroke-width="6.8" stroke-linecap="round"/>
<line x1="1628.3" y1="86.0" x2="1628.3" y2="362.0" stroke-width="4.8" stroke-linecap="round"/>
<path d="M1618.3,160.3 L1628.3,206.3 L1638.3,160.3" stroke-width="4.8" fill="none" stroke-linejoin="miter"/>
<path d="M1621.3,174.3 L1628.3,206.3 L1635.3,174.3 Z" fill="#3a3a3a" stroke="none"/>
<path d="M1638.3,345.7 L1628.3,299.7 L1618.3,345.7" stroke-width="4.8" fill="none" stroke-linejoin="miter"/>
<path d="M1635.3,331.7 L1628.3,299.7 L1621.3,331.7 Z" fill="#3a3a3a" stroke="none"/>
<text transform="translate(1616.7,139.6) rotate(-90)" font-size="65.2" textLength="71" lengthAdjust="spacingAndGlyphs">22,5</text>
<line x1="1644.3" y1="177.5" x2="1836.8" y2="177.5" stroke-width="4.8" stroke-linecap="round"/>
<line x1="1709.5" y1="160.8" x2="1709.5" y2="240.0" stroke-width="4.8" stroke-linecap="round"/>
<line x1="1740.2" y1="160.8" x2="1740.2" y2="226.0" stroke-width="4.8" stroke-linecap="round"/>
<path d="M1662.5,188.0 L1708.5,177.5 L1662.5,167.0" stroke-width="4.8" fill="none" stroke-linejoin="miter"/>
<path d="M1676.5,184.8 L1708.5,177.5 L1676.5,170.2 Z" fill="#3a3a3a" stroke="none"/>
<path d="M1787.2,167.0 L1741.2,177.5 L1787.2,188.0" stroke-width="4.8" fill="none" stroke-linejoin="miter"/>
<path d="M1773.2,170.2 L1741.2,177.5 L1773.2,184.8 Z" fill="#3a3a3a" stroke="none"/>
<text transform="translate(1764.9,162.0)" font-size="64.8" textLength="76" lengthAdjust="spacingAndGlyphs">6h9</text>
<line x1="1666.7" y1="257.7" x2="1781.0" y2="257.7" stroke-width="4.8" stroke-linecap="round"/>
<line x1="1642.7" y1="216.0" x2="1954.0" y2="367.9" stroke-width="4.8" stroke-linecap="round"/>
<path d="M1646.0,228.1 L1691.5,239.8 L1654.3,211.1" stroke-width="4.8" fill="none" stroke-linejoin="miter"/>
<path d="M1659.8,231.7 L1691.5,239.8 L1665.6,219.8 Z" fill="#3a3a3a" stroke="none"/>
<path d="M1808.0,286.1 L1762.5,274.4 L1799.7,303.1" stroke-width="4.8" fill="none" stroke-linejoin="miter"/>
<path d="M1794.2,282.5 L1762.5,274.4 L1788.4,294.4 Z" fill="#3a3a3a" stroke="none"/>
<text transform="translate(1820.7,292.3) rotate(26.012375912129833)" font-size="61.5" textLength="154" lengthAdjust="spacingAndGlyphs">Ø20j6</text>
</g>
<rect x="0" y="1250.6" width="2048" height="1.6" fill="#a3a3a3" stroke="none"/>
<circle cx="1775.5" cy="877" r="3" fill="#3a3a3a" stroke="none"/>
<circle cx="1178" cy="652.5" r="1.6" fill="#555" stroke="none"/>
</svg></body></html>
